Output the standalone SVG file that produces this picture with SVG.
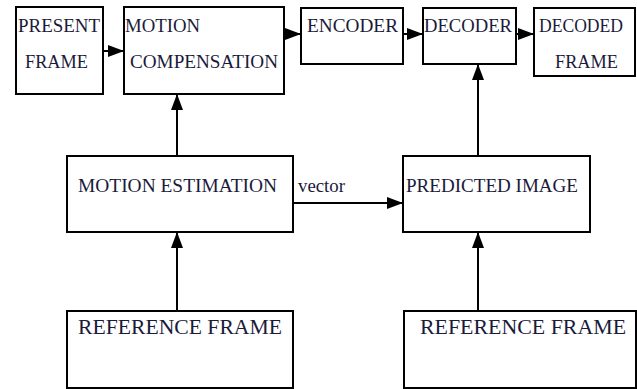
<svg xmlns="http://www.w3.org/2000/svg" width="637" height="389" viewBox="0 0 637 389">
  <style>
    .box { fill: #fff; stroke: #000; stroke-width: 2; }
    .lbl { font-family: "Liberation Serif", "Times New Roman", serif; font-size: 19px; fill: #1a1a3a; }
    .big { font-size: 21.5px; }
    .wire { stroke: #000; stroke-width: 2; fill: none; marker-end: url(#head); }
  </style>
  <defs>
    <marker id="head" viewBox="0 0 16 12" refX="16" refY="6" markerWidth="16" markerHeight="12" markerUnits="userSpaceOnUse" orient="auto">
      <path d="M0,0 L16,6 L0,12 Z" fill="#000"/>
    </marker>
  </defs>
  <rect width="637" height="389" fill="#fff"/>

  <g id="present-frame">
    <rect class="box" x="16" y="7" width="87" height="87"/>
    <text class="lbl" x="18" y="32" textLength="82" lengthAdjust="spacingAndGlyphs">PRESENT</text>
    <text class="lbl" x="25" y="68" textLength="63" lengthAdjust="spacingAndGlyphs">FRAME</text>
  </g>
  <g id="motion-compensation">
    <rect class="box" x="124" y="7" width="160" height="87"/>
    <text class="lbl" x="125" y="32" textLength="75" lengthAdjust="spacingAndGlyphs">MOTION</text>
    <text class="lbl" x="130" y="68" textLength="148" lengthAdjust="spacingAndGlyphs">COMPENSATION</text>
  </g>
  <g id="encoder">
    <rect class="box" x="301" y="8" width="102" height="56"/>
    <text class="lbl" x="307" y="32" textLength="91" lengthAdjust="spacingAndGlyphs">ENCODER</text>
  </g>
  <g id="decoder">
    <rect class="box" x="423" y="8" width="93" height="56"/>
    <text class="lbl" x="424" y="32" textLength="88" lengthAdjust="spacingAndGlyphs">DECODER</text>
  </g>
  <g id="decoded-frame">
    <rect class="box" x="534" y="8" width="101" height="68"/>
    <text class="lbl" x="539" y="32" textLength="84" lengthAdjust="spacingAndGlyphs">DECODED</text>
    <text class="lbl" x="555" y="68" textLength="63" lengthAdjust="spacingAndGlyphs">FRAME</text>
  </g>
  <g id="motion-estimation">
    <rect class="box" x="67" y="156" width="226" height="76"/>
    <text class="lbl" x="78" y="192" textLength="199" lengthAdjust="spacingAndGlyphs">MOTION ESTIMATION</text>
  </g>
  <g id="predicted-image">
    <rect class="box" x="403" y="156" width="187" height="76"/>
    <text class="lbl" x="406" y="192" textLength="172" lengthAdjust="spacingAndGlyphs">PREDICTED IMAGE</text>
  </g>
  <g id="reference-frame-left">
    <rect class="box" x="67" y="311" width="226" height="77"/>
    <text class="lbl big" x="78" y="334" textLength="204" lengthAdjust="spacingAndGlyphs">REFERENCE FRAME</text>
  </g>
  <g id="reference-frame-right">
    <rect class="box" x="404" y="311" width="232" height="77"/>
    <text class="lbl big" x="420" y="334" textLength="206" lengthAdjust="spacingAndGlyphs">REFERENCE FRAME</text>
  </g>

  <g id="connectors">
    <line class="wire" x1="103" y1="51" x2="124" y2="51"/>
    <line class="wire" x1="284" y1="34" x2="301" y2="34"/>
    <line class="wire" x1="403" y1="34" x2="423" y2="34"/>
    <line class="wire" x1="516" y1="34" x2="534" y2="34"/>
    <line class="wire" x1="177" y1="156" x2="177" y2="94"/>
    <line class="wire" x1="177" y1="311" x2="177" y2="232"/>
    <line class="wire" x1="293" y1="203" x2="403" y2="203"/>
    <line class="wire" x1="478" y1="156" x2="478" y2="64"/>
    <line class="wire" x1="478" y1="311" x2="478" y2="232"/>
    <text class="lbl" x="298" y="192" textLength="47" lengthAdjust="spacingAndGlyphs">vector</text>
  </g>
</svg>
